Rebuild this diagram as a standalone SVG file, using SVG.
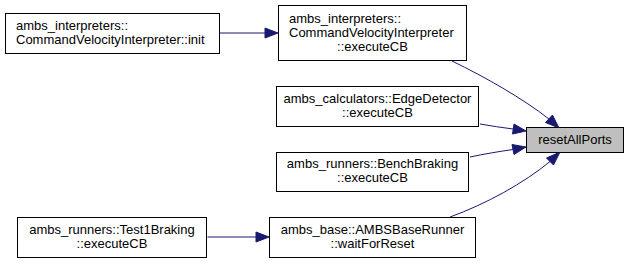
<svg xmlns="http://www.w3.org/2000/svg" width="629" height="263" viewBox="0 0 629 263">
  <style>
    .box { fill: #ffffff; stroke: #000000; stroke-width: 1; }
    .hl { fill: #bfbfbf; stroke: #000000; stroke-width: 1; }
    .lbl { font-family: "Liberation Sans", Arial, sans-serif; font-size: 13px; fill: #000000; }
    .mid { text-anchor: middle; }
    .edge { fill: none; stroke: #191970; stroke-width: 1; }
    .head { fill: #191970; stroke: #191970; stroke-width: 1; }
  </style>
  <rect width="629" height="263" fill="#ffffff"/>

  <g id="edges">
    <!-- init -> CommandVelocityInterpreter::executeCB -->
    <path class="edge" d="M219.5,33 L265,33"/>
    <polygon class="head" points="265,28 278,33 265,38"/>
    <!-- CommandVelocityInterpreter::executeCB -> resetAllPorts -->
    <path class="edge" d="M452,61 C485,77 522,98 549,119"/>
    <polygon class="head" points="545.5,122.5 559,128 552.5,115"/>
    <!-- EdgeDetector::executeCB -> resetAllPorts -->
    <path class="edge" d="M480,124 C491,126 502,127.5 513,129"/>
    <polygon class="head" points="512.5,134 526,131 514,124"/>
    <!-- BenchBraking::executeCB -> resetAllPorts -->
    <path class="edge" d="M470,157 C484,154 499,151.5 513,149.5"/>
    <polygon class="head" points="514,154.5 526,147 512,144.5"/>
    <!-- waitForReset -> resetAllPorts -->
    <path class="edge" d="M450,217 C486,204 524,183 550,161.5"/>
    <polygon class="head" points="553.5,165 560,152 546.5,158"/>
    <!-- Test1Braking::executeCB -> waitForReset -->
    <path class="edge" d="M207.5,237 L256,237"/>
    <polygon class="head" points="256,232 269,237 256,242"/>
  </g>

  <g id="node-init">
    <rect class="box" x="5.5" y="13.5" width="214" height="40"/>
    <text class="lbl" x="16" y="30">ambs_interpreters::</text>
    <text class="lbl" x="16" y="44">CommandVelocityInterpreter::init</text>
  </g>

  <g id="node-cvi-executeCB">
    <rect class="box" x="278.5" y="5.5" width="188" height="55"/>
    <text class="lbl" x="289" y="23">ambs_interpreters::</text>
    <text class="lbl" x="289" y="37">CommandVelocityInterpreter</text>
    <text class="lbl mid" x="372.5" y="51">::executeCB</text>
  </g>

  <g id="node-edgedetector">
    <rect class="box" x="276.5" y="86.5" width="202" height="40"/>
    <text class="lbl mid" x="377.5" y="103">ambs_calculators::EdgeDetector</text>
    <text class="lbl mid" x="377.5" y="117">::executeCB</text>
  </g>

  <g id="node-resetAllPorts">
    <rect class="hl" x="526.5" y="127.5" width="97" height="25"/>
    <text class="lbl mid" x="575" y="144">resetAllPorts</text>
  </g>

  <g id="node-benchbraking">
    <rect class="box" x="276.5" y="152.5" width="192" height="39"/>
    <text class="lbl mid" x="372.5" y="168">ambs_runners::BenchBraking</text>
    <text class="lbl mid" x="372.5" y="182">::executeCB</text>
  </g>

  <g id="node-waitForReset">
    <rect class="box" x="269.5" y="217.5" width="206" height="40"/>
    <text class="lbl mid" x="372.5" y="234">ambs_base::AMBSBaseRunner</text>
    <text class="lbl mid" x="372.5" y="248">::waitForReset</text>
  </g>

  <g id="node-test1braking">
    <rect class="box" x="17.5" y="217.5" width="189" height="40"/>
    <text class="lbl mid" x="112" y="234">ambs_runners::Test1Braking</text>
    <text class="lbl mid" x="112" y="248">::executeCB</text>
  </g>
</svg>
